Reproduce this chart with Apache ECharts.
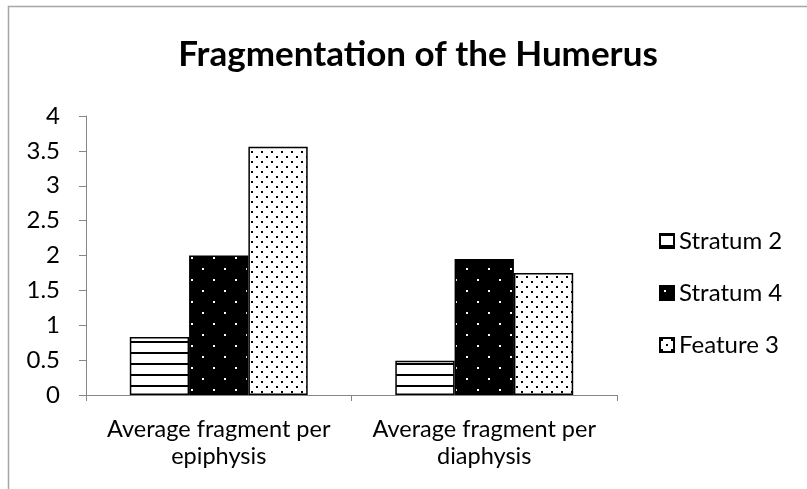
<!DOCTYPE html>
<html>
<head>
<meta charset="utf-8">
<script src="https://cdn.jsdelivr.net/npm/echarts@6/dist/echarts.min.js"></script>
<style>
  html, body { margin: 0; padding: 0; background: #fff; }
  #chart { width: 807px; height: 489px; }
</style>
</head>
<body>
<div id="chart"></div>
<script>
const categories = ['Average fragment per\nepiphysis', 'Average fragment per\ndiaphysis']
const seriesNames = ['Stratum 2', 'Stratum 4', 'Feature 3']
const stratum2 = [0.83, 0.49]
const stratum4 = [2.0, 1.95]
const feature3 = [3.56, 1.75]
const yTicks = [0, 0.5, 1, 1.5, 2, 2.5, 3, 3.5, 4]

const font = 'Lato, "Open Sans", sans-serif'

// fill patterns drawn on small canvases
function stripes() {
  let c = document.createElement('canvas')
  c.width = 8; c.height = 11
  let ctx = c.getContext('2d')
  ctx.fillStyle = '#fff'
  ctx.fillRect(0, 0, 8, 11)
  ctx.fillStyle = '#000'
  ctx.fillRect(0, 0, 8, 2)
  return c
}
function blackDots() {
  let c = document.createElement('canvas')
  c.width = 22; c.height = 22
  let ctx = c.getContext('2d')
  ctx.fillStyle = '#000'
  ctx.fillRect(0, 0, 22, 22)
  ctx.fillStyle = '#fff'
  ctx.fillRect(4, 4, 2, 2)
  ctx.fillRect(15, 15, 2, 2)
  return c
}
function whiteDots() {
  let c = document.createElement('canvas')
  c.width = 10; c.height = 10
  let ctx = c.getContext('2d')
  ctx.fillStyle = '#fff'
  ctx.fillRect(0, 0, 10, 10)
  ctx.fillStyle = '#000'
  ctx.fillRect(1, 1, 2, 2)
  ctx.fillRect(6, 6, 2, 2)
  return c
}

const fills = [stripes(), blackDots(), whiteDots()]
const values = [stratum2, stratum4, feature3]

let myChart = echarts.init(document.getElementById('chart'), null, { renderer: 'canvas' })
let option = {
  animation: false,
  backgroundColor: '#fff',
  title: {
    text: 'Fragmentation of the Humerus',
    left: 413,
    textAlign: 'center',
    top: 32,
    textStyle: { fontFamily: font, fontSize: 35, fontWeight: 'bold', color: '#000' }
  },
  graphic: [{
    type: 'rect',
    shape: { x: 8.5, y: 6.5, width: 820, height: 500 },
    style: { fill: null, stroke: '#a6a6a6', lineWidth: 1.5 },
    silent: true
  }],
  grid: {
    left: 86,
    right: 190,
    top: 116,
    bottom: 94
  },
  legend: {
    orient: 'vertical',
    left: 654,
    top: 224,
    itemGap: 28,
    itemWidth: 14,
    itemHeight: 14,
    icon: 'rect',
    textStyle: { fontFamily: font, fontSize: 24, color: '#000' },
    data: seriesNames
  },
  xAxis: {
    type: 'category',
    data: categories,
    axisLine: { lineStyle: { color: '#868686', width: 1 } },
    axisTick: { show: true, length: 6, lineStyle: { color: '#868686' } },
    axisLabel: {
      interval: 0,
      hideOverlap: false,
      fontFamily: font, fontSize: 23.5, color: '#000', margin: 21, lineHeight: 27
    }
  },
  yAxis: {
    type: 'value',
    min: 0,
    max: 4,
    interval: 0.5,
    axisLine: { show: true, lineStyle: { color: '#868686', width: 1 } },
    axisTick: { show: true, length: 7, lineStyle: { color: '#868686' } },
    splitLine: { show: false },
    axisLabel: {
      fontFamily: font, fontSize: 24, color: '#000', margin: 26,
      formatter: v => yTicks.includes(v) ? String(v) : ''
    }
  },
  series: seriesNames.map((name, i) => ({
    name: name,
    type: 'bar',
    data: values[i],
    barGap: '0%',
    barCategoryGap: '33%',
    itemStyle: {
      color: { image: fills[i], repeat: 'repeat' },
      borderColor: '#000',
      borderWidth: 1.5
    }
  }))
}
myChart.setOption(option)
</script>
</body>
</html>
